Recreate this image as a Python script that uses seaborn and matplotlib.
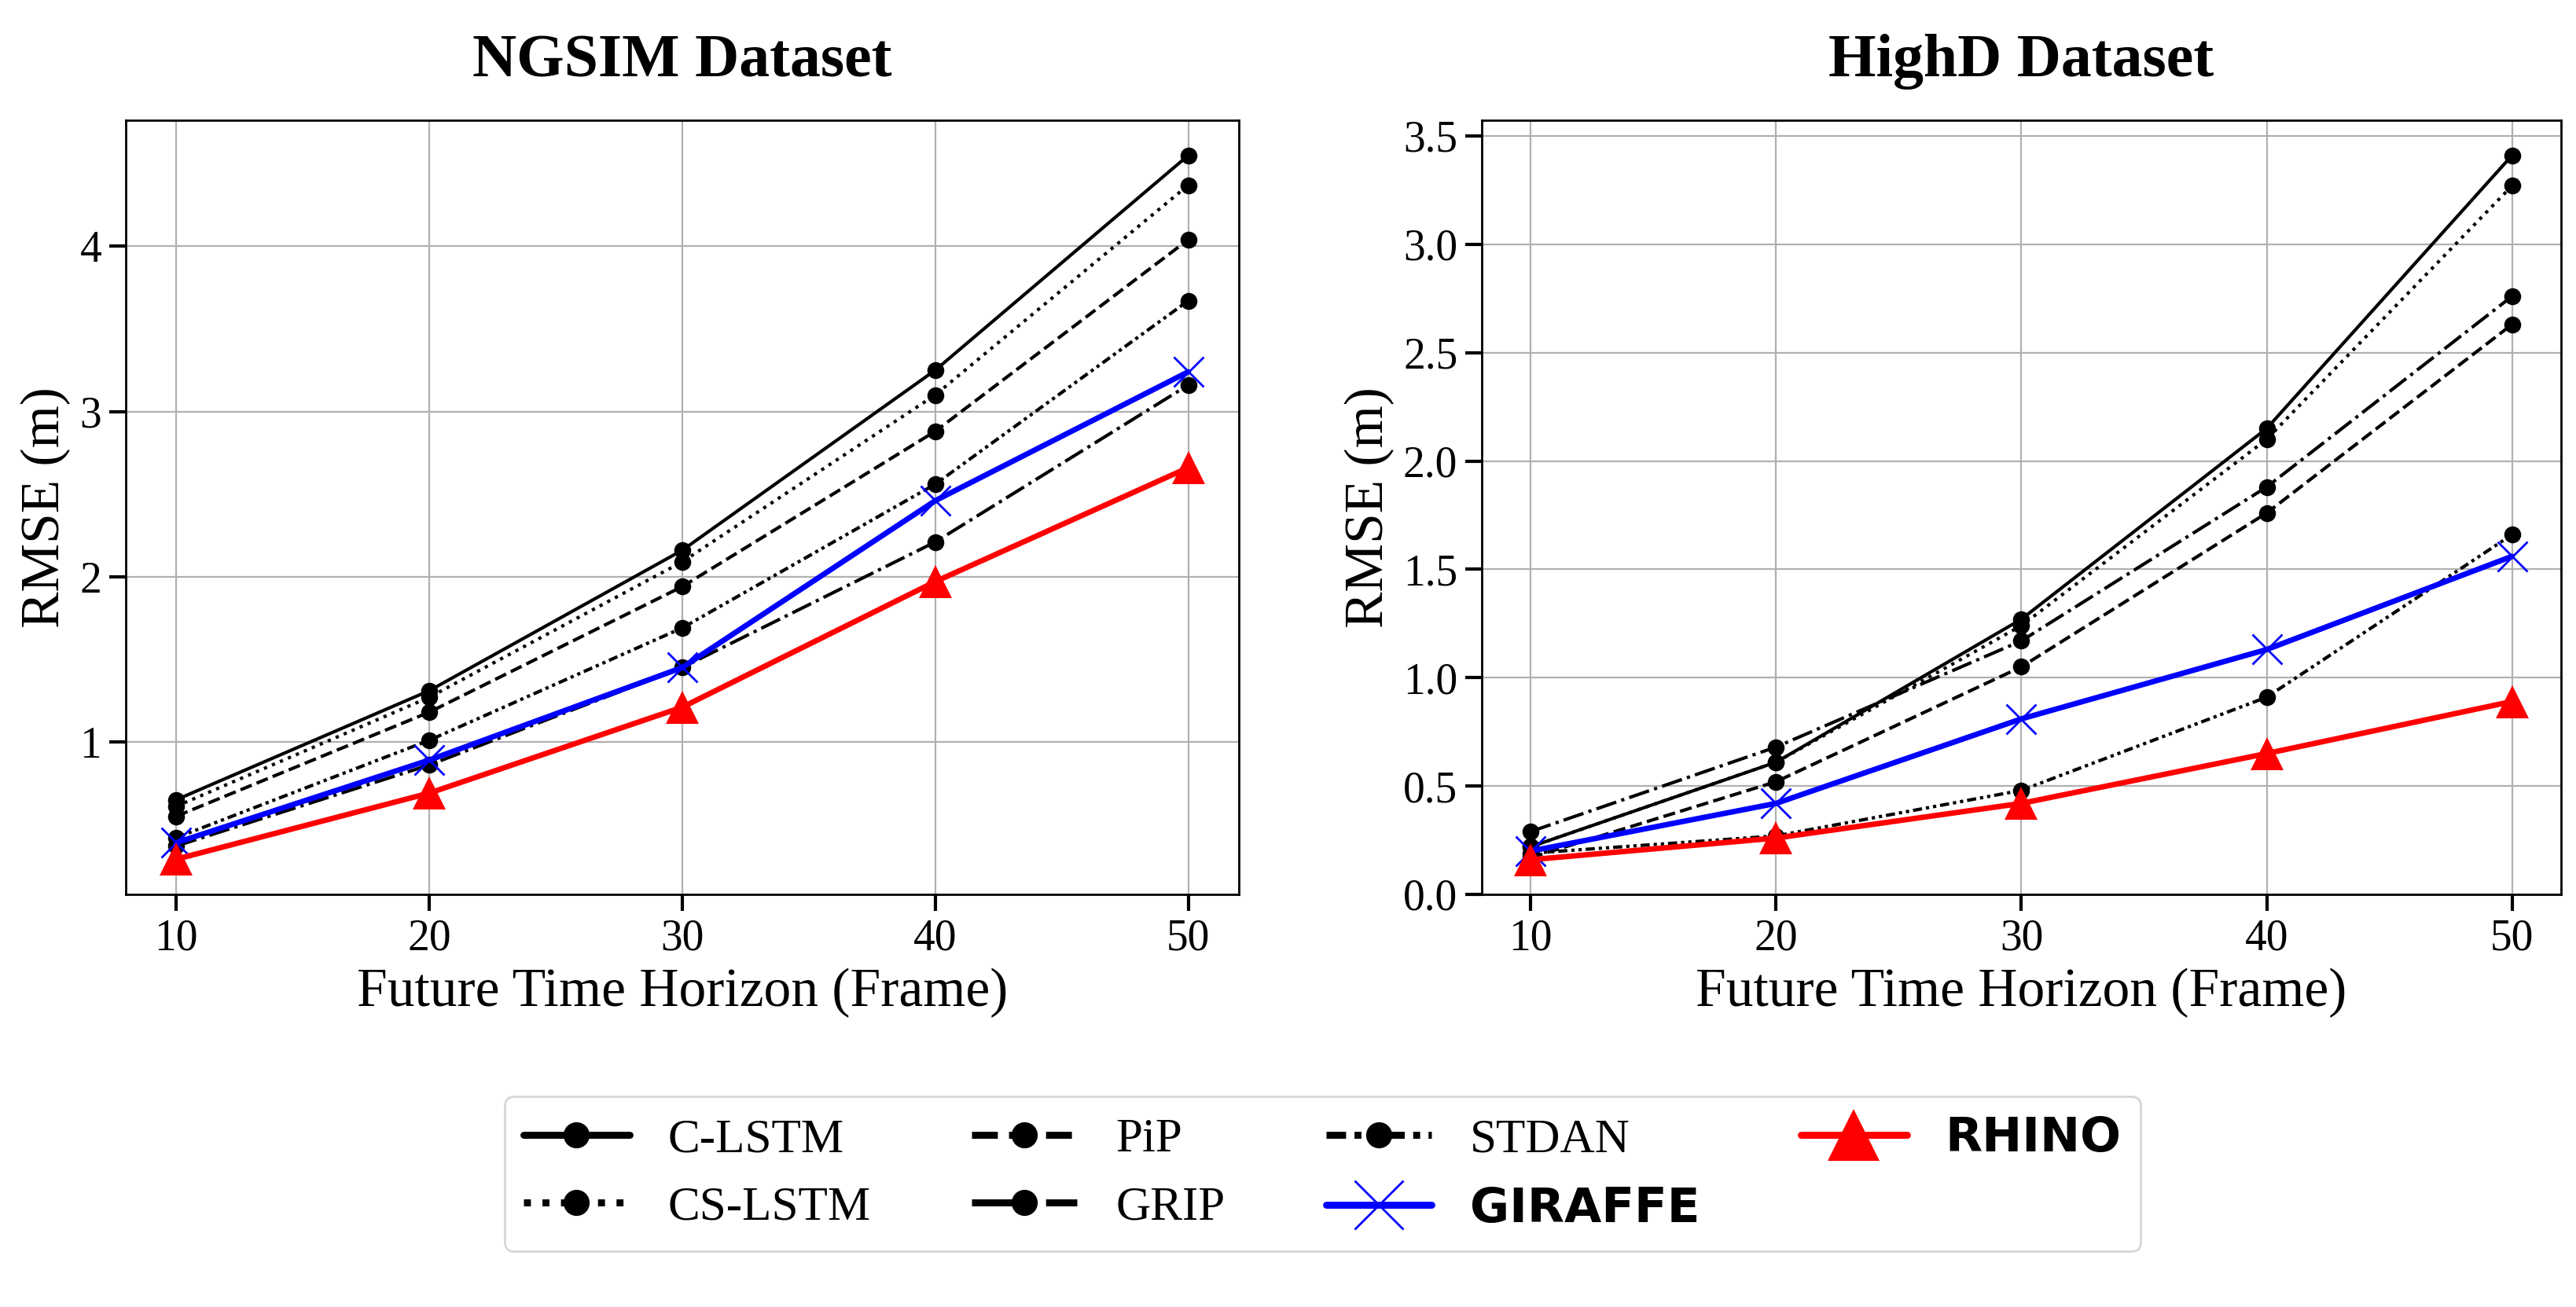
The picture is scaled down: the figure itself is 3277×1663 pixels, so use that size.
import matplotlib
matplotlib.use("Agg")
import matplotlib.pyplot as plt
import seaborn as sns

# Future horizon (frames) and RMSE (m) per method
horizon = [10, 20, 30, 40, 50]
methods = ["C-LSTM", "CS-LSTM", "PiP", "GRIP", "STDAN", "GIRAFFE", "RHINO"]

ngsim_clstm = [0.65, 1.31, 2.16, 3.25, 4.55]
ngsim_cslstm = [0.61, 1.27, 2.09, 3.10, 4.37]
ngsim_pip = [0.55, 1.18, 1.94, 2.88, 4.04]
ngsim_grip = [0.37, 0.86, 1.45, 2.21, 3.16]
ngsim_stdan = [0.42, 1.01, 1.69, 2.56, 3.67]
ngsim_giraffe = [0.39, 0.89, 1.45, 2.46, 3.24]
ngsim_rhino = [0.29, 0.69, 1.21, 1.97, 2.66]

highd_clstm = [0.22, 0.61, 1.27, 2.15, 3.41]
highd_cslstm = [0.22, 0.61, 1.24, 2.10, 3.27]
highd_pip = [0.17, 0.52, 1.05, 1.76, 2.63]
highd_grip = [0.29, 0.68, 1.17, 1.88, 2.76]
highd_stdan = [0.19, 0.27, 0.48, 0.91, 1.66]
highd_giraffe = [0.20, 0.42, 0.81, 1.13, 1.56]
highd_rhino = [0.16, 0.26, 0.42, 0.65, 0.89]

ngsim = [ngsim_clstm, ngsim_cslstm, ngsim_pip, ngsim_grip, ngsim_stdan, ngsim_giraffe, ngsim_rhino]
highd = [highd_clstm, highd_cslstm, highd_pip, highd_grip, highd_stdan, highd_giraffe, highd_rhino]

dot = dict(color="black", marker="o", markersize=7, markeredgecolor="black", linewidth=1.5)
styles = {
    "C-LSTM": dict(dot, linestyle="-"),
    "CS-LSTM": dict(dot, linestyle=":"),
    "PiP": dict(dot, linestyle="--"),
    "GRIP": dict(dot, linestyle="-."),
    "STDAN": dict(dot, linestyle=(0, (2.8, 1.2, 1, 1.2, 1, 1.2))),
    "GIRAFFE": dict(color="blue", linestyle="-", marker="x", markersize=14,
                    markeredgecolor="blue", markeredgewidth=1.0, linewidth=2.5),
    "RHINO": dict(color="red", linestyle="-", marker="^", markersize=15,
                  markeredgecolor="red", markeredgewidth=0, linewidth=2.5),
}
bold_labels = {"GIRAFFE", "RHINO"}

sns.set_theme(style="ticks")
plt.rcParams["font.family"] = ["Liberation Serif", "DejaVu Serif"]
plt.rcParams.update({
    "text.color": "black",
    "axes.labelcolor": "black",
    "axes.edgecolor": "black",
    "xtick.color": "black",
    "ytick.color": "black",
})

fig = plt.figure(figsize=(16.385, 8.315), dpi=200)
ax_l = fig.add_axes([0.0488, 0.3157, 0.4321, 0.5923])
ax_r = fig.add_axes([0.5752, 0.3157, 0.4190, 0.5923])

for ax, data, title in [(ax_l, ngsim, "NGSIM Dataset"), (ax_r, highd, "HighD Dataset")]:
    for name, vals in zip(methods, data):
        sns.lineplot(x=horizon, y=vals, ax=ax, label=name, **styles[name])
    if ax.get_legend() is not None:
        ax.get_legend().remove()
    ax.set_title(title, fontsize=28, fontweight="bold", pad=20)
    ax.set_xlabel("Future Time Horizon (Frame)", fontsize=25)
    ax.set_ylabel("RMSE (m)", fontsize=25)
    ax.set_xticks(horizon)
    ax.tick_params(axis="both", labelsize=20, length=7.5, width=1.5, direction="out")
    ax.grid(True, color="#b0b0b0", linewidth=0.8)
    for sp in ax.spines.values():
        sp.set_color("black")
        sp.set_linewidth(1.0)

ax_r.set_ylim(bottom=0)
ax_r.set_yticks([0.0, 0.5, 1.0, 1.5, 2.0, 2.5, 3.0, 3.5])
ax_r.set_yticklabels([f"{v:.1f}" for v in [0.0, 0.5, 1.0, 1.5, 2.0, 2.5, 3.0, 3.5]])
ax_l.set_yticks([1, 2, 3, 4])

handles, labels = ax_l.get_legend_handles_labels()
leg = fig.legend(handles, labels, loc="center", bbox_to_anchor=(0.5134, 0.1019), ncol=4,
                 fontsize=22, markerscale=1.6, handlelength=2.2, handletextpad=0.8,
                 columnspacing=2.1, frameon=True, fancybox=True, edgecolor="0.8")
for h in leg.legend_handles:
    h.set_linewidth(3.2)
for t in leg.get_texts():
    if t.get_text() in bold_labels:
        t.set_fontfamily("DejaVu Sans")
        t.set_fontweight("bold")

fig.savefig("out.png", dpi=200)
